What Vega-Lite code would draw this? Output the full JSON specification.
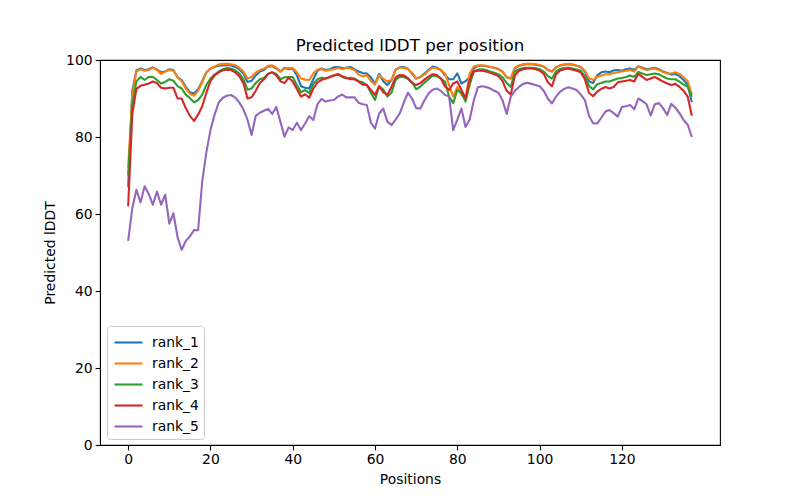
{
  "$schema": "https://vega.github.io/schema/vega-lite/v6.json",
  "width": 620,
  "height": 385,
  "autosize": {"type": "none"},
  "padding": {"left": 100, "top": 60, "right": 80, "bottom": 55},
  "background": "white",
  "config": {
    "font": "DejaVu Sans",
    "view": {"stroke": "black", "strokeWidth": 1.1},
    "axis": {
      "labelFont": "DejaVu Sans", "titleFont": "DejaVu Sans",
      "labelFontSize": 13.9, "titleFontSize": 13.9, "titleFontWeight": "normal",
      "labelColor": "black", "titleColor": "black",
      "domainColor": "black", "tickColor": "black", "tickSize": 4.9, "tickWidth": 1.1,
      "labelPadding": 3, "grid": false
    }
  },
  "title": {"text": "Predicted lDDT per position", "fontSize": 16.7, "fontWeight": "normal", "font": "DejaVu Sans", "color": "black", "offset": -2},
  "data": {"values": [
    {"pos":0,"rank_1":67,"rank_2":72,"rank_3":70,"rank_4":62,"rank_5":53},
    {"pos":1,"rank_1":92,"rank_2":91,"rank_3":88.5,"rank_4":86,"rank_5":61.5},
    {"pos":2,"rank_1":97.3,"rank_2":97,"rank_3":94.5,"rank_4":92.5,"rank_5":66.3},
    {"pos":3,"rank_1":97.8,"rank_2":97.6,"rank_3":95.6,"rank_4":93.3,"rank_5":63},
    {"pos":4,"rank_1":97.4,"rank_2":97.2,"rank_3":94.8,"rank_4":93.6,"rank_5":67.2},
    {"pos":5,"rank_1":97.6,"rank_2":97.4,"rank_3":95.6,"rank_4":93.9,"rank_5":65.2},
    {"pos":6,"rank_1":98.1,"rank_2":98,"rank_3":95.6,"rank_4":94.4,"rank_5":62.4},
    {"pos":7,"rank_1":97.5,"rank_2":97.4,"rank_3":94.8,"rank_4":94,"rank_5":65.8},
    {"pos":8,"rank_1":96.8,"rank_2":96.4,"rank_3":93.9,"rank_4":92.8,"rank_5":62.4},
    {"pos":9,"rank_1":97,"rank_2":97,"rank_3":94.3,"rank_4":92.6,"rank_5":65},
    {"pos":10,"rank_1":97.6,"rank_2":97.4,"rank_3":95,"rank_4":92.8,"rank_5":57.5},
    {"pos":11,"rank_1":97.4,"rank_2":97.2,"rank_3":94.6,"rank_4":92.8,"rank_5":60.2},
    {"pos":12,"rank_1":95.5,"rank_2":95.5,"rank_3":93.2,"rank_4":90,"rank_5":54},
    {"pos":13,"rank_1":94.8,"rank_2":94.5,"rank_3":92.6,"rank_4":90,"rank_5":50.7},
    {"pos":14,"rank_1":93,"rank_2":92.6,"rank_3":91,"rank_4":87.5,"rank_5":53},
    {"pos":15,"rank_1":91.6,"rank_2":91.2,"rank_3":90.1,"rank_4":85.5,"rank_5":54.2},
    {"pos":16,"rank_1":91.3,"rank_2":90.7,"rank_3":89,"rank_4":84.2,"rank_5":55.8},
    {"pos":17,"rank_1":92.4,"rank_2":92,"rank_3":89.6,"rank_4":85.8,"rank_5":55.8},
    {"pos":18,"rank_1":94.5,"rank_2":94.2,"rank_3":91,"rank_4":88,"rank_5":68.5},
    {"pos":19,"rank_1":96.8,"rank_2":96.7,"rank_3":93.5,"rank_4":91.5,"rank_5":76},
    {"pos":20,"rank_1":97.8,"rank_2":97.8,"rank_3":95.2,"rank_4":94.5,"rank_5":81.8},
    {"pos":21,"rank_1":98.2,"rank_2":98.3,"rank_3":96.2,"rank_4":96,"rank_5":85.8},
    {"pos":22,"rank_1":98.5,"rank_2":98.8,"rank_3":97,"rank_4":96.8,"rank_5":88.9},
    {"pos":23,"rank_1":98.6,"rank_2":99,"rank_3":97.6,"rank_4":97.3,"rank_5":90.2},
    {"pos":24,"rank_1":98.7,"rank_2":99,"rank_3":97.9,"rank_4":97.5,"rank_5":90.7},
    {"pos":25,"rank_1":98.6,"rank_2":98.9,"rank_3":97.8,"rank_4":97.4,"rank_5":90.9},
    {"pos":26,"rank_1":98.2,"rank_2":98.7,"rank_3":97.3,"rank_4":96.8,"rank_5":90.3},
    {"pos":27,"rank_1":97.6,"rank_2":98,"rank_3":96.5,"rank_4":95.8,"rank_5":89},
    {"pos":28,"rank_1":96.5,"rank_2":97,"rank_3":95,"rank_4":94,"rank_5":87.2},
    {"pos":29,"rank_1":94.3,"rank_2":95.2,"rank_3":92.3,"rank_4":90,"rank_5":84.5},
    {"pos":30,"rank_1":94.6,"rank_2":95.6,"rank_3":92.6,"rank_4":90.3,"rank_5":80.5},
    {"pos":31,"rank_1":96,"rank_2":96.7,"rank_3":94,"rank_4":92,"rank_5":85.5},
    {"pos":32,"rank_1":97,"rank_2":97.4,"rank_3":95,"rank_4":94,"rank_5":86.3},
    {"pos":33,"rank_1":97.4,"rank_2":97.7,"rank_3":95.3,"rank_4":95,"rank_5":86.8},
    {"pos":34,"rank_1":98.3,"rank_2":98.5,"rank_3":96.4,"rank_4":96.4,"rank_5":87.3},
    {"pos":35,"rank_1":98.4,"rank_2":98.6,"rank_3":96.8,"rank_4":96.8,"rank_5":86},
    {"pos":36,"rank_1":97.8,"rank_2":98,"rank_3":96.4,"rank_4":96,"rank_5":87.8},
    {"pos":37,"rank_1":97,"rank_2":97,"rank_3":95,"rank_4":94.5,"rank_5":84},
    {"pos":38,"rank_1":98,"rank_2":97.8,"rank_3":95.5,"rank_4":94,"rank_5":80.1},
    {"pos":39,"rank_1":97.6,"rank_2":97.9,"rank_3":95.6,"rank_4":95.4,"rank_5":82.5},
    {"pos":40,"rank_1":97.8,"rank_2":97.9,"rank_3":95.6,"rank_4":94.4,"rank_5":81.8},
    {"pos":41,"rank_1":96,"rank_2":96.8,"rank_3":93.5,"rank_4":92.5,"rank_5":83.7},
    {"pos":42,"rank_1":93.2,"rank_2":95.2,"rank_3":91.6,"rank_4":90.5,"rank_5":81.8},
    {"pos":43,"rank_1":92.8,"rank_2":94.9,"rank_3":92.2,"rank_4":91.1,"rank_5":83.5},
    {"pos":44,"rank_1":92.6,"rank_2":94.8,"rank_3":91.4,"rank_4":90.2,"rank_5":85.4},
    {"pos":45,"rank_1":95,"rank_2":96.5,"rank_3":93.8,"rank_4":92.6,"rank_5":84.4},
    {"pos":46,"rank_1":97.2,"rank_2":97.5,"rank_3":95,"rank_4":94.2,"rank_5":88.5},
    {"pos":47,"rank_1":97.8,"rank_2":97.6,"rank_3":95.4,"rank_4":94.8,"rank_5":89.9},
    {"pos":48,"rank_1":97.4,"rank_2":97.2,"rank_3":95.2,"rank_4":95.2,"rank_5":89.2},
    {"pos":49,"rank_1":97.6,"rank_2":97.4,"rank_3":95.6,"rank_4":95.6,"rank_5":89.5},
    {"pos":50,"rank_1":98.1,"rank_2":97.6,"rank_3":96,"rank_4":96,"rank_5":89.6},
    {"pos":51,"rank_1":98.2,"rank_2":97.9,"rank_3":96.2,"rank_4":96.4,"rank_5":90.5},
    {"pos":52,"rank_1":97.9,"rank_2":97.6,"rank_3":95.6,"rank_4":95.8,"rank_5":91},
    {"pos":53,"rank_1":98,"rank_2":98,"rank_3":95.2,"rank_4":95.4,"rank_5":90.3},
    {"pos":54,"rank_1":98.2,"rank_2":97.8,"rank_3":95.4,"rank_4":95,"rank_5":90.3},
    {"pos":55,"rank_1":97.6,"rank_2":97.4,"rank_3":95.2,"rank_4":95,"rank_5":90.3},
    {"pos":56,"rank_1":97,"rank_2":96.2,"rank_3":94.5,"rank_4":94.4,"rank_5":88.9},
    {"pos":57,"rank_1":96.6,"rank_2":95.8,"rank_3":94.2,"rank_4":93.6,"rank_5":88.5},
    {"pos":58,"rank_1":96.5,"rank_2":96,"rank_3":93.5,"rank_4":93.5,"rank_5":88.3},
    {"pos":59,"rank_1":95.5,"rank_2":94.5,"rank_3":91.5,"rank_4":92.2,"rank_5":83.7},
    {"pos":60,"rank_1":93.8,"rank_2":93.6,"rank_3":89.6,"rank_4":90.9,"rank_5":82.2},
    {"pos":61,"rank_1":96.4,"rank_2":96,"rank_3":93.2,"rank_4":93.2,"rank_5":86.1},
    {"pos":62,"rank_1":94.5,"rank_2":95.2,"rank_3":92.3,"rank_4":91.6,"rank_5":87.4},
    {"pos":63,"rank_1":93.5,"rank_2":94.4,"rank_3":90.5,"rank_4":91,"rank_5":84},
    {"pos":64,"rank_1":94.8,"rank_2":94.8,"rank_3":91.5,"rank_4":93,"rank_5":83.1},
    {"pos":65,"rank_1":97.5,"rank_2":97.5,"rank_3":94.8,"rank_4":95.5,"rank_5":84.5},
    {"pos":66,"rank_1":98.1,"rank_2":98,"rank_3":95.6,"rank_4":96.1,"rank_5":86.1},
    {"pos":67,"rank_1":98.2,"rank_2":98,"rank_3":95.6,"rank_4":96,"rank_5":89},
    {"pos":68,"rank_1":97.7,"rank_2":97.6,"rank_3":95.1,"rank_4":95.3,"rank_5":91.5},
    {"pos":69,"rank_1":96.5,"rank_2":96.7,"rank_3":94.2,"rank_4":94,"rank_5":90},
    {"pos":70,"rank_1":95.2,"rank_2":95.2,"rank_3":92.4,"rank_4":93.5,"rank_5":87.5},
    {"pos":71,"rank_1":95.6,"rank_2":95.6,"rank_3":93.1,"rank_4":94,"rank_5":87.4},
    {"pos":72,"rank_1":96.5,"rank_2":96.2,"rank_3":94.1,"rank_4":94.9,"rank_5":89.5},
    {"pos":73,"rank_1":97.4,"rank_2":97.2,"rank_3":95,"rank_4":95.7,"rank_5":91.3},
    {"pos":74,"rank_1":98.3,"rank_2":98,"rank_3":96,"rank_4":96.3,"rank_5":92.3},
    {"pos":75,"rank_1":98,"rank_2":97.8,"rank_3":95.8,"rank_4":96.1,"rank_5":92.6},
    {"pos":76,"rank_1":97.4,"rank_2":97.4,"rank_3":95.2,"rank_4":95.2,"rank_5":92},
    {"pos":77,"rank_1":96.1,"rank_2":96.5,"rank_3":94.4,"rank_4":93.1,"rank_5":90.9},
    {"pos":78,"rank_1":95,"rank_2":93.5,"rank_3":90.5,"rank_4":92.2,"rank_5":90.6},
    {"pos":79,"rank_1":95,"rank_2":90.5,"rank_3":88.8,"rank_4":93.9,"rank_5":81.8},
    {"pos":80,"rank_1":96.5,"rank_2":93,"rank_3":92.2,"rank_4":94.4,"rank_5":84.5},
    {"pos":81,"rank_1":93.9,"rank_2":91,"rank_3":91.5,"rank_4":92.2,"rank_5":87.4},
    {"pos":82,"rank_1":94.5,"rank_2":90,"rank_3":89.2,"rank_4":90,"rank_5":82.6},
    {"pos":83,"rank_1":95.5,"rank_2":96.5,"rank_3":93.5,"rank_4":94.8,"rank_5":84.5},
    {"pos":84,"rank_1":97.8,"rank_2":98.3,"rank_3":97,"rank_4":97,"rank_5":89.5},
    {"pos":85,"rank_1":98.5,"rank_2":98.6,"rank_3":97.5,"rank_4":97.2,"rank_5":92.9},
    {"pos":86,"rank_1":98.5,"rank_2":98.6,"rank_3":97.6,"rank_4":97.2,"rank_5":93.2},
    {"pos":87,"rank_1":98.4,"rank_2":98.5,"rank_3":97.4,"rank_4":97,"rank_5":93},
    {"pos":88,"rank_1":98.2,"rank_2":98.2,"rank_3":97,"rank_4":96.7,"rank_5":92.6},
    {"pos":89,"rank_1":98,"rank_2":98,"rank_3":96.7,"rank_4":96.3,"rank_5":92},
    {"pos":90,"rank_1":97.6,"rank_2":97.6,"rank_3":96.3,"rank_4":95.8,"rank_5":91.5},
    {"pos":91,"rank_1":97,"rank_2":97,"rank_3":95.5,"rank_4":94.5,"rank_5":89.5},
    {"pos":92,"rank_1":95.5,"rank_2":95.5,"rank_3":94,"rank_4":92,"rank_5":86},
    {"pos":93,"rank_1":95.2,"rank_2":95.3,"rank_3":93,"rank_4":91,"rank_5":90.5},
    {"pos":94,"rank_1":97.8,"rank_2":98,"rank_3":97,"rank_4":96,"rank_5":92},
    {"pos":95,"rank_1":98.5,"rank_2":98.6,"rank_3":97.6,"rank_4":97.2,"rank_5":93},
    {"pos":96,"rank_1":98.8,"rank_2":98.9,"rank_3":97.9,"rank_4":97.6,"rank_5":93.8},
    {"pos":97,"rank_1":98.9,"rank_2":99,"rank_3":98,"rank_4":97.8,"rank_5":94.1},
    {"pos":98,"rank_1":98.9,"rank_2":99,"rank_3":98,"rank_4":97.8,"rank_5":93.8},
    {"pos":99,"rank_1":98.8,"rank_2":98.9,"rank_3":97.9,"rank_4":97.6,"rank_5":93.5},
    {"pos":100,"rank_1":98.6,"rank_2":98.7,"rank_3":97.6,"rank_4":97.3,"rank_5":93.2},
    {"pos":101,"rank_1":98.3,"rank_2":98.3,"rank_3":97,"rank_4":96.4,"rank_5":92},
    {"pos":102,"rank_1":97.4,"rank_2":97.5,"rank_3":95.8,"rank_4":94.2,"rank_5":90},
    {"pos":103,"rank_1":97,"rank_2":97,"rank_3":95.2,"rank_4":93.2,"rank_5":88.7},
    {"pos":104,"rank_1":98,"rank_2":98.2,"rank_3":97,"rank_4":96.3,"rank_5":90.5},
    {"pos":105,"rank_1":98.6,"rank_2":98.6,"rank_3":97.7,"rank_4":97.3,"rank_5":91.8},
    {"pos":106,"rank_1":98.8,"rank_2":98.8,"rank_3":97.9,"rank_4":97.6,"rank_5":92.5},
    {"pos":107,"rank_1":98.9,"rank_2":98.9,"rank_3":98,"rank_4":97.8,"rank_5":92.9},
    {"pos":108,"rank_1":98.8,"rank_2":98.8,"rank_3":97.8,"rank_4":97.5,"rank_5":92.6},
    {"pos":109,"rank_1":98.5,"rank_2":98.5,"rank_3":97.5,"rank_4":97.2,"rank_5":92.2},
    {"pos":110,"rank_1":98.2,"rank_2":98.2,"rank_3":97.2,"rank_4":96.8,"rank_5":91},
    {"pos":111,"rank_1":97,"rank_2":97.2,"rank_3":95.8,"rank_4":95,"rank_5":89.6},
    {"pos":112,"rank_1":94.5,"rank_2":95.3,"rank_3":93.2,"rank_4":91.5,"rank_5":85.5},
    {"pos":113,"rank_1":94,"rank_2":94.8,"rank_3":92.4,"rank_4":90.6,"rank_5":83.6},
    {"pos":114,"rank_1":96,"rank_2":95.6,"rank_3":93.7,"rank_4":91.8,"rank_5":83.5},
    {"pos":115,"rank_1":96.8,"rank_2":96,"rank_3":94,"rank_4":92.5,"rank_5":85},
    {"pos":116,"rank_1":97,"rank_2":96.3,"rank_3":94.4,"rank_4":93,"rank_5":86.6},
    {"pos":117,"rank_1":96.8,"rank_2":96.3,"rank_3":94.4,"rank_4":92.6,"rank_5":87},
    {"pos":118,"rank_1":97.3,"rank_2":96.6,"rank_3":94.8,"rank_4":93,"rank_5":86.2},
    {"pos":119,"rank_1":97.4,"rank_2":96.8,"rank_3":95.2,"rank_4":94.2,"rank_5":85.3},
    {"pos":120,"rank_1":97.2,"rank_2":97,"rank_3":95.3,"rank_4":94.4,"rank_5":87.8},
    {"pos":121,"rank_1":97.6,"rank_2":97.2,"rank_3":95.6,"rank_4":94.6,"rank_5":88},
    {"pos":122,"rank_1":97.8,"rank_2":97.4,"rank_3":96,"rank_4":94.8,"rank_5":88.3},
    {"pos":123,"rank_1":97.4,"rank_2":97,"rank_3":95.6,"rank_4":94.4,"rank_5":87.2},
    {"pos":124,"rank_1":98.4,"rank_2":98.3,"rank_3":96.9,"rank_4":96.4,"rank_5":90},
    {"pos":125,"rank_1":98,"rank_2":97.8,"rank_3":96.5,"rank_4":95.6,"rank_5":89.3},
    {"pos":126,"rank_1":97.6,"rank_2":97.4,"rank_3":96.1,"rank_4":94.8,"rank_5":88.5},
    {"pos":127,"rank_1":97.8,"rank_2":97.6,"rank_3":96.3,"rank_4":95.2,"rank_5":85.6},
    {"pos":128,"rank_1":98,"rank_2":97.8,"rank_3":96.5,"rank_4":95.6,"rank_5":88.5},
    {"pos":129,"rank_1":97.6,"rank_2":97.4,"rank_3":96.3,"rank_4":95,"rank_5":88.8},
    {"pos":130,"rank_1":97,"rank_2":96.9,"rank_3":95.7,"rank_4":94.4,"rank_5":87.5},
    {"pos":131,"rank_1":96.6,"rank_2":96.5,"rank_3":95.2,"rank_4":93.9,"rank_5":85.7},
    {"pos":132,"rank_1":96.2,"rank_2":96.5,"rank_3":95,"rank_4":93.5,"rank_5":88.6},
    {"pos":133,"rank_1":96.4,"rank_2":96.8,"rank_3":95,"rank_4":93.8,"rank_5":87.6},
    {"pos":134,"rank_1":95.8,"rank_2":96.4,"rank_3":94.4,"rank_4":93,"rank_5":86.2},
    {"pos":135,"rank_1":94.8,"rank_2":95.5,"rank_3":93.6,"rank_4":92,"rank_5":84.4},
    {"pos":136,"rank_1":93.5,"rank_2":94.5,"rank_3":93,"rank_4":90.5,"rank_5":83.2},
    {"pos":137,"rank_1":89,"rank_2":91,"rank_3":90.5,"rank_4":85.5,"rank_5":80}
  ]},
  "transform": [{"fold": ["rank_1", "rank_2", "rank_3", "rank_4", "rank_5"], "as": ["model", "plddt"]}],
  "mark": {"type": "line", "strokeWidth": 2.1, "strokeJoin": "round", "clip": true},
  "encoding": {
    "x": {
      "field": "pos", "type": "quantitative",
      "scale": {"domain": [-6.85, 143.85], "nice": false, "zero": false},
      "axis": {"values": [0, 20, 40, 60, 80, 100, 120], "title": "Positions", "titlePadding": 6}
    },
    "y": {
      "field": "plddt", "type": "quantitative",
      "scale": {"domain": [0, 100], "nice": false},
      "axis": {"values": [0, 20, 40, 60, 80, 100], "title": "Predicted lDDT", "titlePadding": 8}
    },
    "color": {
      "field": "model", "type": "nominal",
      "scale": {"domain": ["rank_1", "rank_2", "rank_3", "rank_4", "rank_5"], "range": ["#1f77b4", "#ff7f0e", "#2ca02c", "#d62728", "#9467bd"]},
      "legend": {
        "title": null, "orient": "none", "legendX": 7, "legendY": 266,
        "symbolType": "M-1.4,0H1.4", "symbolSize": 400, "symbolStrokeWidth": 2.1,
        "symbolOffset": 5, "labelOffset": 12,
        "labelFontSize": 13.9, "labelFont": "DejaVu Sans", "labelColor": "black",
        "rowPadding": 2, "padding": 5,
        "strokeColor": "#cccccc", "fillColor": "white", "cornerRadius": 3
      }
    }
  }
}
